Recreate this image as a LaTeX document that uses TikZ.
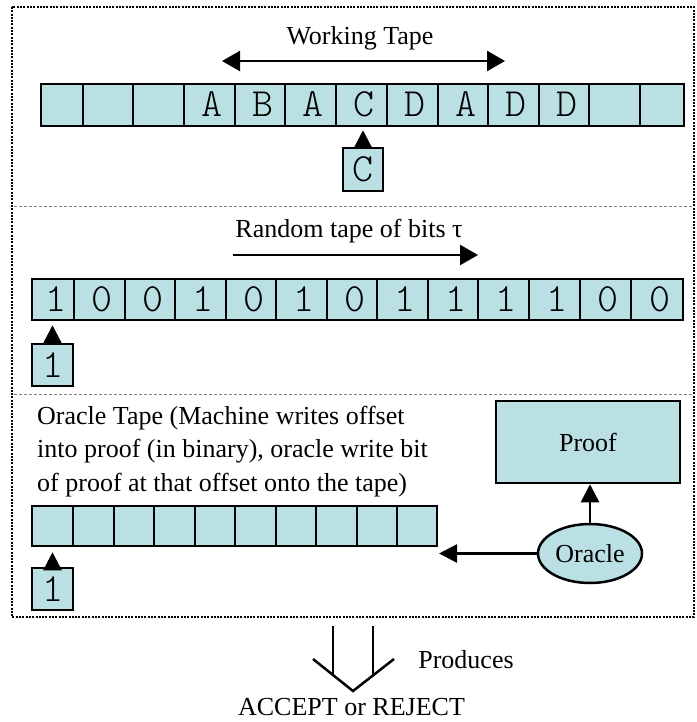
\documentclass[tikz,border=0pt]{standalone}
\usepackage{fontspec}
\setmainfont{Liberation Serif}
\usetikzlibrary{arrows.meta,shapes.geometric}
\definecolor{tapefill}{RGB}{186,224,227}
\begin{document}
\begin{tikzpicture}[x=1pt,y=-1pt,
  cell/.style={draw, fill=tapefill, line width=2.5pt, inner sep=0pt,
    text height=24pt, text depth=0pt, font=\ttfamily\fontseries{l}\fontsize{40}{40}\selectfont},
  lbl/.style={font=\fontsize{26}{32}\selectfont, inner sep=0pt, anchor=base},
  tip/.style={-{Triangle[length=18pt,width=18pt]}, line width=2.5pt},
  dbl/.style={{Triangle[length=18pt,width=20pt]}-{Triangle[length=18pt,width=20pt]}, line width=2.5pt},
  sepline/.style={gray, line width=1pt, dash pattern=on 3pt off 2pt},
  frame/.style={line width=2pt, dash pattern=on 2pt off 1.3pt},
  boxshape/.style={draw, fill=tapefill, line width=2.5pt, inner sep=0pt, font=\fontsize{26}{32}\selectfont}]
\useasboundingbox (0,0) rectangle (696,722);

% outer frame and separators
\draw[frame] (12,7) rectangle (694,617);
\draw[sepline] (14,206) -- (694,206);
\draw[sepline] (14,394) -- (694,394);

% ---------- Working tape ----------
\node[lbl] (wtxt) at (360,45) {Working Tape};
\coordinate (wl) at (222,61);
\coordinate (wr) at (505,61);
\draw[dbl] (wl) -- (wr);
\foreach \a/\b/\t [count=\i] in {41/83/{},83/133/{},133/184/{},184/235/A,235/285/B,285/336/A,336/387/C,387/438/D,438/488/A,488/539/D,539/589/D,589/640/{},640/684/{}} {
  \node[cell, minimum width={(\b-\a)*1pt}, minimum height=42pt] (w\i) at ({(\a+\b)/2},105) {\hspace*{5pt}\t};
}
\node[cell, minimum width=40pt, minimum height=43pt] (hc) at (363,169.5) {C};
\draw[tip, shorten >=3pt] (hc.north) -- (hc.north |- w7.south);

% ---------- Random tape ----------
\node[lbl] (rtxt) at (349,237) {Random tape of bits τ};
\coordinate (rl) at (233,255);
\coordinate (rr) at (478,255);
\draw[line width=2.5pt, -{Triangle[length=18pt,width=20pt]}] (rl) -- (rr);
\foreach \a/\b/\t [count=\i] in {32/74/1,74/125/0,125/175/0,175/226/1,226/276/0,276/327/1,327/377/0,377/428/1,428/478/1,478/529/1,529/580/1,580/631/0,631/683/0} {
  \node[cell, minimum width={(\b-\a)*1pt}, minimum height=41pt] (r\i) at ({(\a+\b)/2},299.5) {\hspace*{5pt}\t};
}
\node[cell, minimum width=41pt, minimum height=42pt] (hr) at (52.5,365) {1};
\draw[tip, shorten >=4pt] (hr.north) -- (hr.north |- r1.south);

% ---------- Oracle tape ----------
\node[lbl, anchor=base west] (ot1) at (37,424) {Oracle Tape (Machine writes offset};
\node[lbl, anchor=base west] (ot2) at (37,457.5) {into proof (in binary), oracle write bit};
\node[lbl, anchor=base west] (ot3) at (37,491) {of proof at that offset onto the tape)};
\foreach \a/\b [count=\i] in {32/73,73/114,114/154,154/195,195/235,235/276,276/316,316/357,357/397,397/437} {
  \node[cell, minimum width={(\b-\a)*1pt}, minimum height=40pt] (o\i) at ({(\a+\b)/2},526) {};
}
\node[cell, minimum width=41pt, minimum height=42pt] (ho) at (52.5,589) {1};
\draw[tip, shorten >=5pt] (ho.north) -- (ho.north |- o1.south);

\node[boxshape, minimum width=184pt, minimum height=82pt] (proof) at (588,442) {Proof};
\node[boxshape, ellipse, minimum width=104pt, minimum height=59pt] (oracle) at (590,553.5) {Oracle};
\draw[tip] (oracle.north) -- (oracle.north |- proof.south);
\coordinate (otip) at (439,553.5);
\draw[tip] (oracle.west) -- (otip);

% ---------- Produces ----------
\draw[line width=2.5pt] (333,626) -- (333,675);
\draw[line width=2.5pt] (373,626) -- (373,675);
\draw[line width=2.5pt, line join=miter] (313,659) -- (353,691) -- (394,659);
\node[lbl] (prod) at (466,668) {Produces};
\node[lbl] (res) at (351.5,715) {ACCEPT or REJECT};
\end{tikzpicture}
\end{document}
